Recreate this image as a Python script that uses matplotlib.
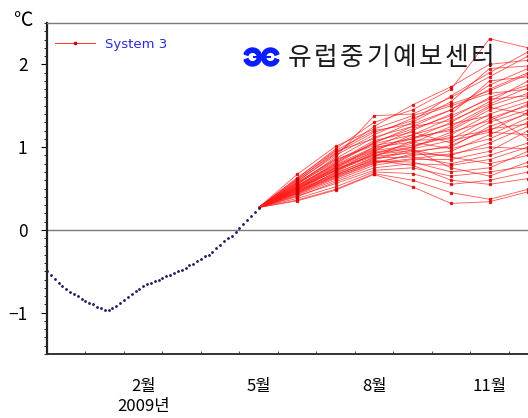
import matplotlib
matplotlib.use('Agg')
import matplotlib.pyplot as plt
import matplotlib.transforms as mtransforms
import numpy as np
from matplotlib.lines import Line2D
from matplotlib.patches import Wedge

plt.rcParams['font.family'] = ['Noto Sans CJK KR', 'DejaVu Sans']

# Observed anomaly, months since 1 Dec 2008
obs_x = [round(0.1 * i, 1) for i in range(56)]
obs_y = [-0.50, -0.55, -0.59, -0.64, -0.68, -0.72, -0.75, -0.77, -0.80, -0.83,
         -0.86, -0.88, -0.90, -0.93, -0.95, -0.97, -0.97, -0.95, -0.92, -0.88,
         -0.85, -0.81, -0.77, -0.74, -0.71, -0.68, -0.66, -0.64, -0.62, -0.60,
         -0.58, -0.56, -0.54, -0.52, -0.50, -0.48, -0.46, -0.43, -0.41, -0.38,
         -0.35, -0.32, -0.30, -0.27, -0.22, -0.18, -0.14, -0.10, -0.07, -0.03,
         0.02, 0.07, 0.12, 0.17, 0.22, 0.27]

# Forecast months (mid-month, Jun..Dec 2009)
fc_x = [6.5, 7.5, 8.5, 9.5, 10.5, 11.5, 12.5]

# Ensemble members: Jun, Jul, Aug, Sep, Oct, Nov, Dec
members = [
    [0.62, 0.98, 1.30, 1.45, 1.70, 2.31, 2.20],
    [0.58, 0.92, 1.25, 1.51, 1.73, 2.00, 2.05],
    [0.55, 0.88, 1.38, 1.40, 1.60, 1.85, 2.10],
    [0.60, 0.95, 1.10, 1.30, 1.55, 1.95, 1.98],
    [0.52, 0.80, 1.05, 1.25, 1.45, 1.70, 1.90],
    [0.50, 0.75, 1.00, 1.20, 1.40, 1.80, 1.85],
    [0.48, 0.72, 0.95, 1.15, 1.35, 1.60, 1.75],
    [0.57, 0.85, 1.02, 1.10, 1.30, 1.55, 1.80],
    [0.45, 0.70, 0.92, 1.05, 1.25, 1.50, 1.65],
    [0.53, 0.78, 0.98, 1.12, 1.20, 1.45, 1.60],
    [0.49, 0.74, 0.90, 1.00, 1.15, 1.40, 1.55],
    [0.47, 0.68, 0.88, 1.08, 1.10, 1.35, 1.50],
    [0.56, 0.82, 1.08, 1.18, 1.05, 1.30, 1.45],
    [0.44, 0.66, 0.85, 0.95, 1.00, 1.25, 1.40],
    [0.51, 0.76, 0.96, 1.02, 1.12, 1.20, 1.42],
    [0.46, 0.65, 0.82, 0.90, 0.95, 1.15, 1.35],
    [0.54, 0.79, 1.00, 1.06, 0.98, 1.10, 1.30],
    [0.43, 0.62, 0.80, 0.92, 0.90, 1.05, 1.25],
    [0.50, 0.71, 0.93, 0.98, 1.08, 1.18, 1.15],
    [0.42, 0.60, 0.78, 0.85, 0.85, 0.95, 1.20],
    [0.55, 0.84, 1.04, 1.15, 1.28, 1.38, 1.10],
    [0.48, 0.69, 0.87, 0.88, 0.80, 0.90, 1.05],
    [0.40, 0.58, 0.75, 0.80, 0.78, 0.85, 1.00],
    [0.52, 0.77, 0.97, 1.10, 1.22, 1.48, 1.40],
    [0.45, 0.64, 0.83, 0.82, 0.70, 0.75, 0.95],
    [0.59, 0.90, 1.15, 1.35, 1.50, 1.65, 1.70],
    [0.41, 0.56, 0.72, 0.75, 0.65, 0.70, 0.77],
    [0.63, 0.96, 1.20, 1.28, 1.45, 1.75, 1.95],
    [0.38, 0.52, 0.70, 0.68, 0.55, 0.60, 0.70],
    [0.50, 0.73, 0.91, 0.96, 0.88, 0.80, 0.90],
    [0.36, 0.49, 0.68, 0.60, 0.45, 0.37, 0.49],
    [0.35, 0.48, 0.67, 0.52, 0.32, 0.34, 0.46],
    [0.47, 0.67, 0.84, 0.78, 0.60, 0.55, 0.62],
    [0.61, 0.93, 1.18, 1.32, 1.62, 1.90, 2.15],
    [0.53, 0.81, 1.06, 1.22, 1.38, 1.58, 1.62],
    [0.49, 0.72, 0.89, 0.93, 1.02, 1.22, 1.28],
    [0.57, 0.86, 1.12, 1.25, 1.32, 1.52, 1.72],
    [0.44, 0.63, 0.81, 0.86, 0.92, 1.00, 0.98],
    [0.67, 1.01, 1.22, 1.38, 1.52, 1.68, 1.88],
    [0.51, 0.75, 0.94, 1.00, 1.18, 1.32, 1.52],
    [0.46, 0.66, 0.86, 0.97, 0.75, 0.65, 0.82],
]

month_ticks = [2.5, 5.5, 8.5, 11.5]
month_labels = ['2월', '5월', '8월', '11월']
y_ticks = [-1, 0, 1, 2]
y_labels = ['−1', '0', '1', '2']

fig = plt.figure(figsize=(5.28, 4.18), dpi=100)
ax = fig.add_axes([47 / 528, 1 - 354 / 418, 481 / 528, 331 / 418])

ax.axhline(0, color='#7a7a7a', lw=1.0, zorder=1)

# ensemble fan, each member starts from the last observed value
for m in members:
    xs = [obs_x[-1]] + fc_x
    ys = [obs_y[-1]] + m
    ax.plot(xs, ys, color='#ff1a1a', lw=0.6, alpha=0.75, zorder=2,
            marker='s', ms=1.5, mec='#d00000', mfc='#d00000',
            markevery=list(range(1, len(xs))))

# observations as separate dots
ax.plot(obs_x, obs_y, ls='none', marker='o', ms=2.0, mew=0,
        color='#1a1a5c', zorder=3)

ax.set_xlim(0, 12.5)
ax.set_ylim(-1.5, 2.5)

ax.set_xticks(np.arange(1, 13))
ax.set_xticklabels([])
ax.set_xticks(month_ticks, minor=True)
ax.set_xticklabels(month_labels, minor=True, fontsize=12)
ax.tick_params(axis='x', which='major', direction='in', length=2.5,
               width=0.8, color='#555555')
ax.tick_params(axis='x', which='minor', length=0, pad=17)

# year label under the February tick
year_tr = mtransforms.blended_transform_factory(ax.transData, fig.transFigure)
ax.text(2.5, 1 - 406 / 418, '2009년', transform=year_tr,
        ha='center', va='center', fontsize=12)

ax.set_yticks(y_ticks)
ax.set_yticklabels(y_labels, fontsize=12.5)
ax.set_yticks(np.arange(-1.5, 2.51, 0.1), minor=True)
ax.tick_params(axis='y', which='major', direction='out', length=4,
               width=0.8, pad=10)
ax.tick_params(axis='y', which='minor', direction='out', length=2, width=0.6)

ax.spines['right'].set_visible(False)
ax.spines['top'].set_color('#7a7a7a')
ax.spines['top'].set_linewidth(1.0)
ax.spines['left'].set_linewidth(1.6)
ax.spines['left'].set_color('#222222')
ax.spines['bottom'].set_linewidth(1.4)
ax.spines['bottom'].set_color('#333333')

leg = ax.legend([Line2D([0], [0], color='#ff3030', lw=0.7, marker='s', ms=1.6,
                        mfc='#d00000', mec='#d00000')],
                ['System 3'], loc='upper left', bbox_to_anchor=(0.0166, 0.955),
                frameon=False, borderaxespad=0, borderpad=0,
                handlelength=3.0, handletextpad=0.8,
                prop={'family': 'DejaVu Sans', 'size': 9.5})
for t in leg.get_texts():
    t.set_color('#2a2ad0')

fig.text(23 / 528, 1 - 20 / 418, '℃', ha='center', va='center', fontsize=14)

# centre logo
lax = fig.add_axes([243 / 528, 1 - 67 / 418, 37 / 528, 20 / 418])
lax.set_xlim(0, 37)
lax.set_ylim(0, 20)
lax.axis('off')
lax.add_patch(Wedge((9.5, 10), 9, -160, 160, width=4.2, color='#0a1eff'))
lax.add_patch(Wedge((27.5, 10), 9, 20, 340, width=4.2, color='#0a1eff'))
lax.fill_between([9.5, 27.5], 8.8, 11.2, color='#0a1eff', lw=0)

# centre name, one glyph per slot
name = '유럽중기예보센터'
for i, ch in enumerate(name):
    fig.text((300 + 26 * i) / 528, 1 - 58 / 418, ch, ha='center', va='center',
             fontsize=18.5, color='#1a1a1a')

fig.savefig('out.png', dpi=100)
